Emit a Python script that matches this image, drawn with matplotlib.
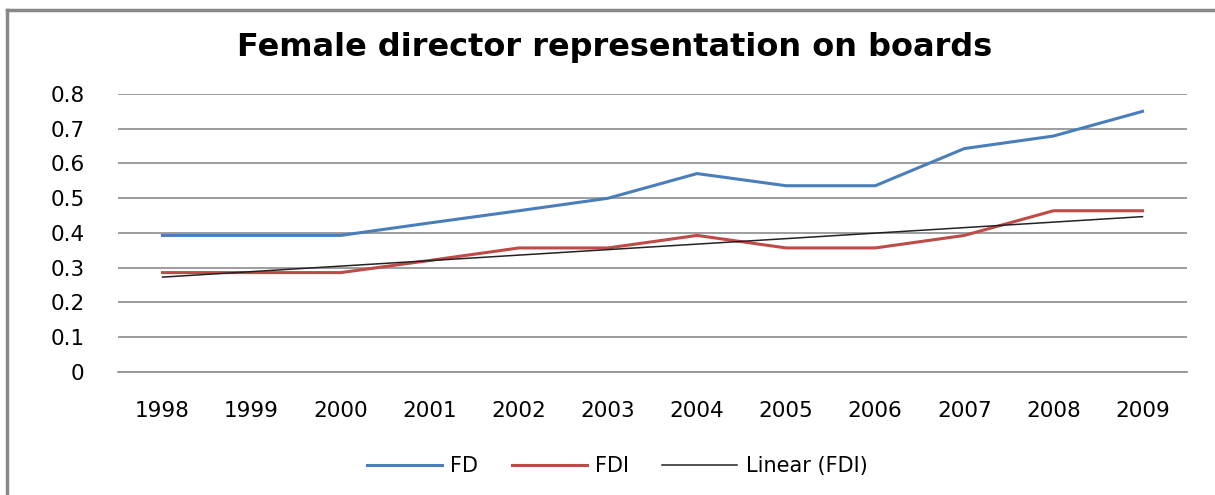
import numpy as np
import matplotlib
matplotlib.use("Agg")
import matplotlib.pyplot as plt
from matplotlib.lines import Line2D

years = ["1998", "1999", "2000", "2001", "2002", "2003",
         "2004", "2005", "2006", "2007", "2008", "2009"]
fd = [0.393, 0.393, 0.393, 0.429, 0.464, 0.500,
      0.571, 0.536, 0.536, 0.643, 0.679, 0.750]
fdi = [0.286, 0.286, 0.286, 0.321, 0.357, 0.357,
       0.393, 0.357, 0.357, 0.393, 0.464, 0.464]
y_ticks = [0, 0.1, 0.2, 0.3, 0.4, 0.5, 0.6, 0.7, 0.8]

plt.rcParams['font.family'] = ['DejaVu Sans']

fig = plt.figure(figsize=(12.15, 4.95), dpi=100)
ax = fig.add_axes([0.0971, 0.2485, 0.8799, 0.5616])

x = np.arange(len(years))
# linear trendline on FDI, same as Excel's "Linear (FDI)"
slope, intercept = np.polyfit(x, fdi, 1)
trend = slope * x + intercept

ax.plot(x, fd, color="#4a7ebb", lw=2.2, label="FD")
ax.plot(x, fdi, color="#be4b48", lw=2.2, label="FDI")
ax.plot(x, trend, color="#222222", lw=1.1, label="Linear (FDI)")

ax.set_xlim(-0.5, len(years) - 0.5)
ax.set_ylim(0, 0.8)
ax.set_yticks(y_ticks)
ax.set_yticklabels(["0" if v == 0 else f"{v:.1f}" for v in y_ticks])
ax.set_xticks(x)
ax.set_xticklabels(years)
ax.yaxis.grid(True, color="#8c8c8c", lw=1.2)
ax.set_axisbelow(True)
for s in ["top", "right", "left"]:
    ax.spines[s].set_visible(False)
ax.spines["bottom"].set_color("#8c8c8c")
ax.spines["bottom"].set_linewidth(1.2)
ax.tick_params(axis="both", length=0, labelsize=15.5, colors="#000000")
ax.tick_params(axis="y", pad=24)
ax.tick_params(axis="x", pad=21)

fig.text(0.506, 0.905, "Female director representation on boards",
         ha="center", va="center", fontsize=23, fontweight="bold")

fig.legend(loc="center", bbox_to_anchor=(0.508, 0.058), ncol=3, frameon=False,
           fontsize=15, handlelength=3.6, columnspacing=1.6, handletextpad=0.4)

# outer chart border (only left and top visible in the crop)
fig.add_artist(Line2D([7 / 1215, 7 / 1215], [0, 1 - 10 / 495],
                      transform=fig.transFigure, color="#888888", lw=2.5))
fig.add_artist(Line2D([7 / 1215, 1], [1 - 10 / 495, 1 - 10 / 495],
                      transform=fig.transFigure, color="#888888", lw=2.5))

fig.savefig("out.png", dpi=100)
